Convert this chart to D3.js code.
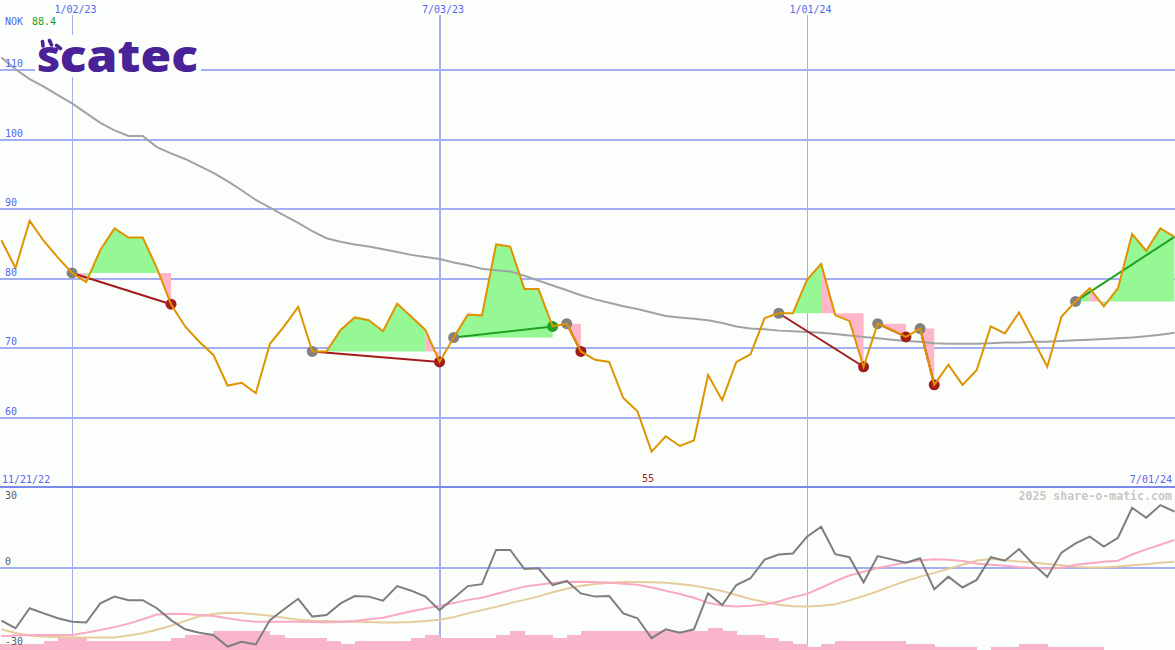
<!DOCTYPE html>
<html><head><meta charset="utf-8">
<script src="https://cdn.jsdelivr.net/npm/d3@7"></script>
<style>
html,body{margin:0;padding:0;background:#fcfefc;overflow:hidden}
svg{display:block}
</style></head><body>
<svg id="c" width="1175" height="650"></svg>
<script>
// ---------- DATA ----------
const startWeek = "2022-11-28";
const endWeek = "2024-07-01";
const price = [85.5,81.5,88.3,85.4,83.0,80.8,79.5,84.1,87.2,85.9,85.9,81.5,76.3,73.1,70.9,69.0,64.6,65.0,63.5,70.6,
  73.1,75.9,69.5,69.5,72.6,74.4,74.0,72.4,76.4,74.5,72.6,68.0,71.5,74.8,74.7,84.9,84.6,78.5,78.5,73.1,
  73.5,69.5,68.3,68.0,62.8,60.9,55.1,57.3,55.9,56.7,66.1,62.5,68.0,69.1,74.3,75.0,75.0,79.8,82.1,74.7,
  73.9,67.3,73.5,72.6,71.6,72.8,64.7,67.6,64.7,66.8,73.1,72.1,75.1,71.2,67.3,74.5,76.7,78.6,76.0,78.6,
  86.4,84.0,87.2,86.0];
const movingAvg = [111.8,110.1,108.7,107.6,106.4,105.2,103.8,102.4,101.3,100.5,100.5,98.9,98.0,97.2,96.2,95.2,94.0,92.7,91.3,90.2,
  89.1,88.0,86.8,85.8,85.3,84.9,84.6,84.2,83.8,83.4,83.1,82.8,82.3,81.9,81.4,81.2,81.0,80.4,79.7,79.0,
  78.3,77.6,77.0,76.5,76.0,75.6,75.1,74.6,74.4,74.2,74.0,73.6,73.1,72.8,72.7,72.5,72.4,72.3,72.2,72.0,
  71.8,71.6,71.4,71.2,71.0,70.9,70.7,70.6,70.6,70.6,70.7,70.8,70.8,70.9,70.9,71.0,71.1,71.2,71.3,71.4,
  71.5,71.7,71.9,72.2];
const oscillator = [-19.5,-22.3,-14.9,-16.8,-18.6,-19.9,-20.2,-13.1,-10.6,-11.9,-11.9,-14.9,-19.3,-22.7,-24.0,-24.8,-29.1,-27.3,-28.3,-19.3,
  -15.3,-11.4,-18.0,-17.4,-13.1,-10.4,-10.6,-12.1,-6.7,-8.4,-10.6,-15.6,-11.2,-6.7,-6.0,6.7,6.7,-0.4,-0.1,-6.3,
  -4.8,-9.4,-10.6,-10.4,-16.8,-18.6,-26.0,-22.7,-24.0,-22.7,-9.4,-13.7,-6.3,-3.8,3.1,5.0,5.4,11.6,15.3,5.1,
  4.0,-5.3,4.4,3.2,2.0,3.6,-7.9,-3.2,-7.2,-4.4,4.0,2.7,7.0,1.5,-3.3,5.7,9.1,11.6,7.9,11.2,
  22.3,18.6,23.3,20.9];
const oscFast = [-25.3,-25.0,-24.8,-24.8,-24.8,-24.8,-24.0,-23.0,-21.9,-20.6,-19.0,-17.2,-16.9,-17.0,-17.4,-17.8,-18.6,-19.4,-19.9,-19.9,
  -19.9,-19.9,-20.0,-20.1,-20.0,-19.6,-19.0,-18.4,-17.2,-16.0,-15.0,-14.0,-13.0,-11.8,-11.0,-9.6,-8.2,-6.9,-6.2,-5.6,
  -5.2,-5.1,-5.2,-5.5,-5.8,-6.2,-7.2,-8.4,-9.6,-11.0,-12.9,-13.9,-14.3,-14.0,-13.5,-12.4,-10.8,-9.6,-7.3,-4.9,
  -2.8,-1.4,0.0,1.0,2.0,2.8,3.2,3.1,2.6,1.7,1.2,0.8,0.3,0.0,-0.3,0.1,1.2,1.8,2.3,2.7,
  5.0,6.9,8.6,10.4];
const oscSlow = [-22.7,-24.1,-25.0,-25.4,-25.6,-25.7,-25.7,-25.7,-25.7,-25.0,-24.2,-22.9,-21.4,-19.6,-17.9,-17.0,-16.6,-16.7,-17.1,-17.7,
  -18.4,-19.2,-19.5,-19.6,-19.8,-19.9,-20.0,-20.2,-20.2,-20.0,-19.6,-19.2,-18.2,-16.8,-15.6,-14.4,-13.0,-11.8,-10.5,-9.0,
  -7.7,-6.6,-5.9,-5.5,-5.2,-5.2,-5.3,-5.5,-5.9,-6.6,-7.5,-8.5,-10.0,-11.5,-12.6,-13.6,-14.2,-14.3,-14.0,-13.4,
  -12.0,-10.4,-8.6,-6.6,-4.8,-3.2,-1.8,-0.3,1.2,2.8,3.3,3.0,2.4,2.0,1.5,1.0,0.5,0.2,0.2,0.6,
  1.0,1.4,1.9,2.3];
const volume = [6,6,6,9,13,13,9,9,9,9,9,9,12,15,15,19,19,19,19,15,
  12,12,12,9,6,9,9,9,9,12,15,12,12,12,12,15,19,15,15,12,
  15,19,19,19,19,19,19,19,19,19,22,19,15,15,12,9,6,3.5,6,9,
  9,9,9,9,6,6,3.5,3.5,3.5,0,3.5,3.5,6,6,3.5,3.5,3.5,3.5,0,0,
  0,0,0,0];
const entryDates = ["2023-01-02","2023-05-01","2023-07-10","2023-09-04","2023-12-18","2024-02-05","2024-02-26","2024-05-13"];
const exitDates  = ["2023-02-20","2023-07-03","2023-08-28","2023-09-11","2024-01-29","2024-02-19","2024-03-04",null];
const dateTicks = ["2023-01-02","2023-07-03","2024-01-01"];
const priceTicks = [60,70,80,90,100,110];
const oscTicks = [30,0,-30];
const currency = "NOK", lastPrice = "88.4", midLabel = "55";
const startLabel = "11/21/22", endLabel = "7/01/24";
const brand = "Scatec", credit = "2025 share-o-matic.com";

// ---------- SETUP ----------
const W = 1175, H = 650;
const parse = d3.timeParse("%Y-%m-%d");
const weeks = d3.timeMonday.range(parse(startWeek), d3.timeDay.offset(parse(endWeek), 1));
const idx = s => weeks.findIndex(w => +w === +parse(s));

const x = d3.scaleTime().domain([weeks[0], weeks[weeks.length-1]]).range([1.4, 1174.5]);
const yP = d3.scaleLinear().domain([60, 110]).range([417.5, 70]);
const yO = d3.scaleLinear().domain([-30, 30]).range([649, 487]);
const yV = d3.scaleLinear().domain([0, 20]).range([650, 630]);

const BG = "#fcfefc", GRID = "#a3aff2", BLUE = "#5566ee";
const svg = d3.select("#c");
svg.append("rect").attr("width", W).attr("height", H).attr("fill", BG);

// horizontal grid (price)
svg.append("g").selectAll("line").data(priceTicks).join("line")
  .attr("x1", 0).attr("x2", W).attr("y1", d => yP(d)).attr("y2", d => yP(d))
  .attr("stroke", GRID).attr("stroke-width", 2).attr("shape-rendering", "crispEdges");

// vertical grid
svg.append("g").selectAll("line").data(dateTicks).join("line")
  .attr("x1", d => Math.round(x(parse(d)))).attr("x2", d => Math.round(x(parse(d))))
  .attr("y1", 15).attr("y2", H)
  .attr("stroke", GRID).attr("stroke-width", d => parse(d).getMonth() === 6 ? 2 : 1)
  .attr("shape-rendering", "crispEdges");

// bottom panel lines
svg.append("line").attr("x1", 0).attr("x2", W).attr("y1", yO(30)).attr("y2", yO(30))
  .attr("stroke", "#7b88ec").attr("stroke-width", 2).attr("shape-rendering", "crispEdges");
svg.append("line").attr("x1", 0).attr("x2", W).attr("y1", yO(0)).attr("y2", yO(0))
  .attr("stroke", GRID).attr("stroke-width", 2).attr("shape-rendering", "crispEdges");

// volume bars
svg.append("g").selectAll("rect").data(volume.slice(0, -1)).join("rect")
  .attr("x", (d, i) => i === 0 ? 0 : x(weeks[i]))
  .attr("width", (d, i) => x(weeks[i+1]) - (i === 0 ? 0 : x(weeks[i])) + 0.5)
  .attr("y", d => yV(d)).attr("height", d => yV(0) - yV(d))
  .attr("fill", "#f9b5c9").attr("shape-rendering", "crispEdges");

// oscillator lines
const lineO = d3.line().x((d, i) => x(weeks[i])).y(d => yO(d));
svg.append("path").attr("d", lineO(oscSlow)).attr("fill", "none").attr("stroke", "#e6cc9c").attr("stroke-width", 2);
svg.append("path").attr("d", lineO(oscFast)).attr("fill", "none").attr("stroke", "#f9a9c2").attr("stroke-width", 2);
svg.append("path").attr("d", lineO(oscillator)).attr("fill", "none").attr("stroke", "#7e7e7e").attr("stroke-width", 2);

// trade fills (consecutive same-colour segments merged to avoid seams)
const trades = entryDates.map((e, t) => {
  const a = idx(e);
  const b = exitDates[t] ? idx(exitDates[t]) : weeks.length - 1;
  return {a, b, open: !exitDates[t], entry: price[a], exitP: price[b]};
});
const gFill = svg.append("g");
trades.forEach(tr => {
  const ar = d3.area().x(i => x(weeks[i])).y0(yP(tr.entry)).y1(i => yP(price[i]));
  let runStart = tr.a;
  for (let k = tr.a + 1; k <= tr.b; k++) {
    const up = price[k] >= tr.entry;
    const nextUp = k < tr.b ? price[k+1] >= tr.entry : null;
    if (k === tr.b || nextUp !== up) {
      gFill.append("path").attr("d", ar(d3.range(runStart, k + 1)))
        .attr("fill", up ? "#95f895" : "#ffb6c8");
      runStart = k;
    }
  }
});

// moving average
const lineP = d3.line().x((d, i) => x(weeks[i])).y(d => yP(d));
svg.append("path").attr("d", lineP(movingAvg)).attr("fill", "none").attr("stroke", "#a2a2a2").attr("stroke-width", 2);

// trade lines
svg.append("g").selectAll("line").data(trades).join("line")
  .attr("x1", d => x(weeks[d.a])).attr("y1", d => yP(d.entry))
  .attr("x2", d => x(weeks[d.b])).attr("y2", d => yP(d.exitP))
  .attr("stroke", d => d.exitP >= d.entry ? "#22a022" : "#a31c1c").attr("stroke-width", 2);

// dots
svg.append("g").selectAll("circle").data(trades).join("circle")
  .attr("cx", d => x(weeks[d.a])).attr("cy", d => yP(d.entry)).attr("r", 5.5).attr("fill", "#818181");
svg.append("g").selectAll("circle").data(trades.filter(d => !d.open)).join("circle")
  .attr("cx", d => x(weeks[d.b])).attr("cy", d => yP(d.exitP)).attr("r", 5.5)
  .attr("fill", d => d.exitP >= d.entry ? "#22a022" : "#a31c1c");

// price line
svg.append("path").attr("d", lineP(price)).attr("fill", "none").attr("stroke", "#e09300").attr("stroke-width", 2);

// ---------- TEXT ----------
const mono = "'DejaVu Sans Mono', monospace";
const fmt = d3.timeFormat("%-m/%d/%y");
svg.append("g").selectAll("text").data(dateTicks).join("text")
  .attr("x", d => x(parse(d)) + 3.5).attr("y", 13).attr("text-anchor", "middle")
  .attr("font-family", mono).attr("font-size", 10).attr("fill", BLUE).text(d => fmt(parse(d)));

svg.append("g").selectAll("text").data(priceTicks).join("text")
  .attr("x", 5).attr("y", d => yP(d) - 3)
  .attr("font-family", mono).attr("font-size", 10).attr("fill", BLUE).text(d => d);

svg.append("text").attr("x", 5).attr("y", 25).attr("font-family", mono).attr("font-size", 10)
  .attr("fill", BLUE).text(currency);
svg.append("text").attr("x", 32).attr("y", 25).attr("font-family", mono).attr("font-size", 10)
  .attr("fill", "#1f9a1f").text(lastPrice);

// bottom panel labels
svg.append("g").selectAll("text").data(oscTicks).join("text")
  .attr("x", 5).attr("y", d => d === 30 ? 499 : (d === 0 ? yO(0) - 3 : 645))
  .attr("font-family", mono).attr("font-size", 10).attr("fill", "#5a5a5a").text(d => d);
svg.append("text").attr("x", 2).attr("y", 483).attr("font-family", mono).attr("font-size", 10)
  .attr("fill", BLUE).text(startLabel);
svg.append("text").attr("x", 1172).attr("y", 483).attr("text-anchor", "end").attr("font-family", mono)
  .attr("font-size", 10).attr("fill", BLUE).text(endLabel);
svg.append("text").attr("x", 648).attr("y", 482).attr("text-anchor", "middle").attr("font-family", mono)
  .attr("font-size", 10).attr("fill", "#a01818").text(midLabel);
svg.append("text").attr("x", 1172).attr("y", 500).attr("text-anchor", "end").attr("font-family", mono)
  .attr("font-size", 11.6).attr("font-weight", "bold").attr("fill", "#c8c8c8").text(credit);

// logo
svg.append("rect").attr("x", 35).attr("y", 35).attr("width", 166).attr("height", 42).attr("fill", BG);
const logo = svg.append("g").attr("fill", "#4a2298");
const rays = [[42.5,41.5,43,46],[49.5,40.5,51.5,45],[56.5,45.5,60.5,48.5]];
logo.selectAll("line").data(rays).join("line")
  .attr("x1", d => d[0]).attr("y1", d => d[1]).attr("x2", d => d[2]).attr("y2", d => d[3])
  .attr("stroke", "#4a2298").attr("stroke-width", 3.6).attr("stroke-linecap", "round");
const lt = logo.append("text").attr("x", 37).attr("y", 72)
  .attr("font-family", "'Open Sans', 'DejaVu Sans', sans-serif").attr("font-weight", 800)
  .attr("textLength", 161).attr("lengthAdjust", "spacingAndGlyphs");
lt.append("tspan").attr("font-size", 35).text(brand.slice(0, 1));
lt.append("tspan").attr("font-size", 44).text(brand.slice(1));
</script>
</body></html>
